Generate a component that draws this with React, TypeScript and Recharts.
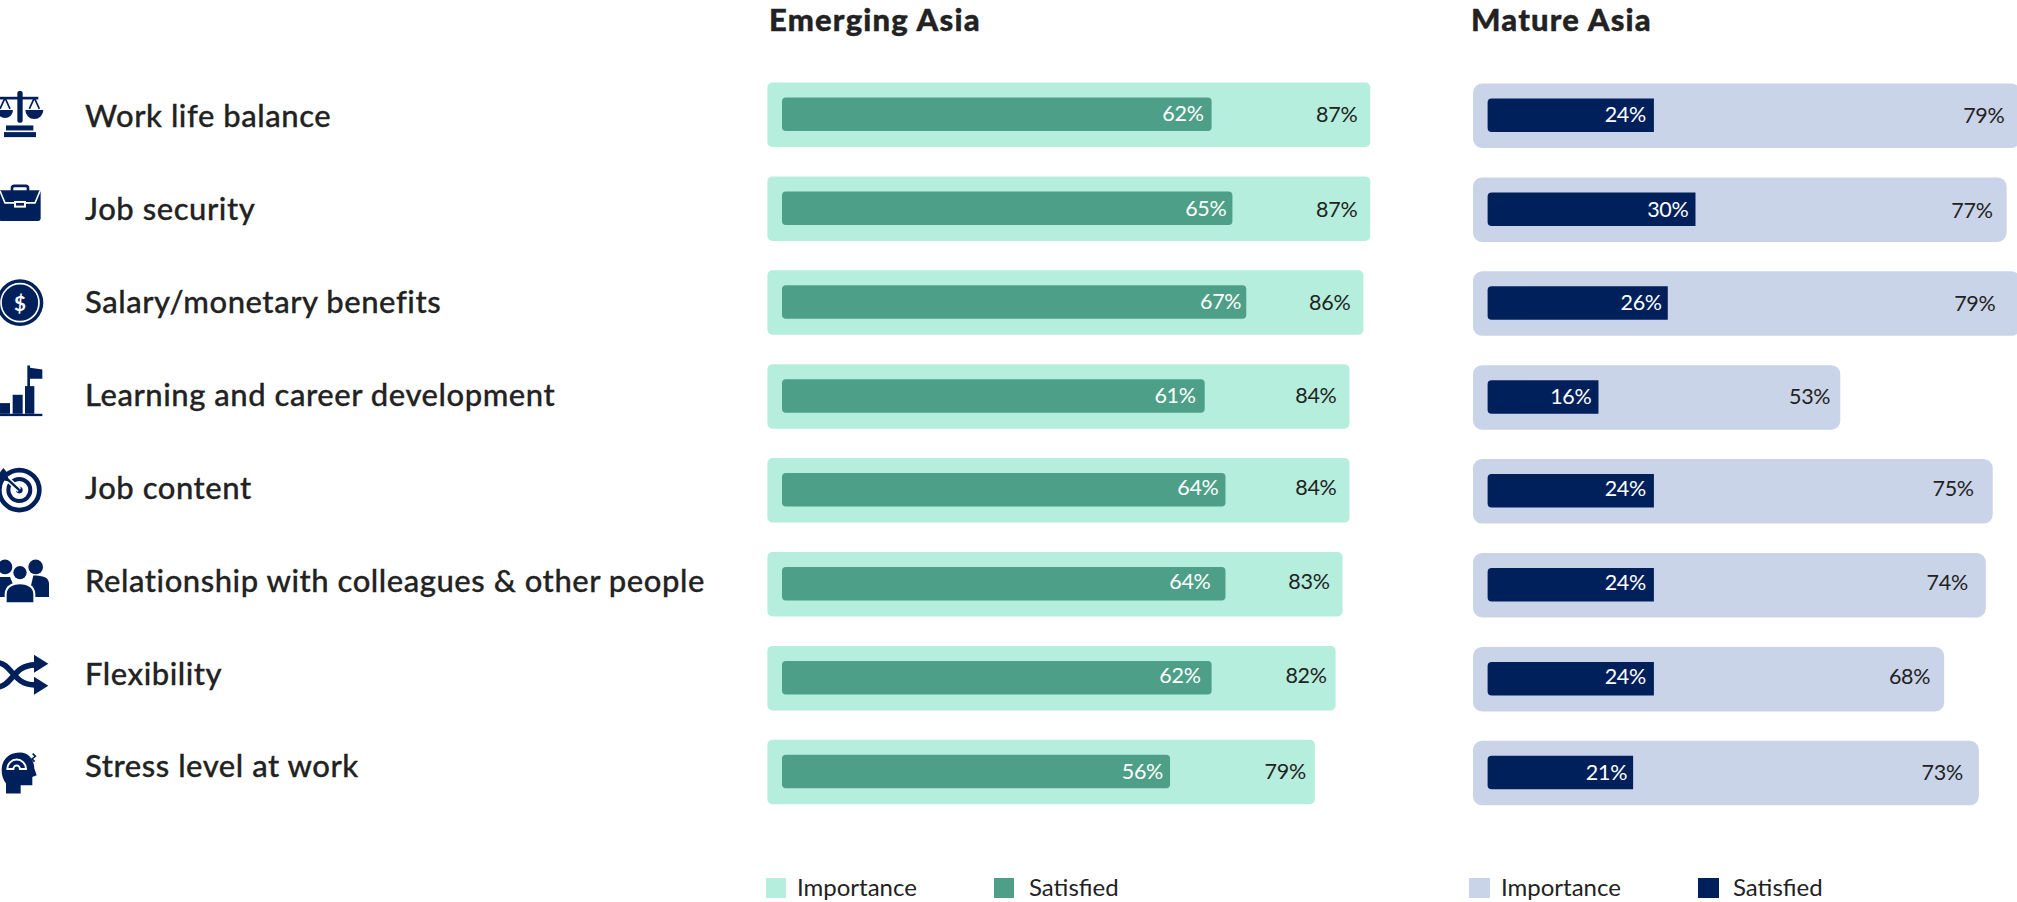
import React from "react"
import { BarChart, Bar, XAxis, YAxis, LabelList } from "recharts"

const categories = [
  "Work life balance",
  "Job security",
  "Salary/monetary benefits",
  "Learning and career development",
  "Job content",
  "Relationship with colleagues & other people",
  "Flexibility",
  "Stress level at work",
]
const emergingImportance = [87, 87, 86, 84, 84, 83, 82, 79]
const emergingSatisfied = [62, 65, 67, 61, 64, 64, 62, 56]
const matureImportance = [79, 77, 79, 53, 75, 74, 68, 73]
const matureSatisfied = [24, 30, 26, 16, 24, 24, 24, 21]
const legendNames = ["Importance", "Satisfied"]

const NAVY = "#00205c"
const INK = "#222222"
const FONT = "Lato, sans-serif"

// the value labels don't sit at one fixed distance from the bar ends
const emergingImpGaps = [13, 13, 13, 13, 13, 13, 9, 9]
const emergingSatGaps = [8, 6, 5, 9, 7, 15, 11, 7]
const matureImpGaps = [16, 14, 25, 10, 19, 18, 14, 16]
const matureSatGaps = [8, 7, 6, 7, 8, 8, 8, 6]
const labelLift = [1, 0, 1, 1, 3, 3, 3, 1]
const iconShift = [0, -5.4, 0.4, -5.7, 0, -3, -3, 1.2]

const toRows = (importance: number[], satisfied: number[]) =>
  categories.map((name, i) => ({ name, importance: importance[i], satisfied: satisfied[i] }))

const emergingRows = toRows(emergingImportance, emergingSatisfied)
const matureRows = toRows(matureImportance, matureSatisfied)

// Icons are sketched at 3x, origin on the left page edge and the row's centre line
function Icon({ index }: { index: number }) {
  switch (index) {
    case 0:
      return (
        <g>
          <rect x={52} y={-70} width={16} height={95} rx={6} />
          <rect x={0} y={-53} width={115} height={8} />
          <path d="M-9,-13 A24,24 0 0 0 39,-13 Z M76,-13 A27,27 0 0 0 130,-13 Z" />
          <path d="M15,-50 L0,-17 M15,-50 L30,-17 M103,-50 L88,-17 M103,-50 L118,-17" fill="none" stroke={NAVY} strokeWidth={5} />
          <rect x={18} y={33} width={82} height={15} />
          <rect x={12} y={53} width={96} height={15} />
        </g>
      )
    case 1:
      return (
        <g>
          <rect x={36} y={-51} width={48} height={22} rx={7} fill="none" stroke={NAVY} strokeWidth={8} />
          <rect x={-4} y={-38} width={126} height={92} rx={7} />
          <path d="M0,-36 L15,0 L105,0 L120,-36" fill="none" stroke="#fff" strokeWidth={5} />
          <rect x={42} y={-6} width={36} height={20} fill="#fff" />
          <rect x={48} y={0} width={24} height={8} />
        </g>
      )
    case 2:
      return (
        <g>
          <circle cx={60} cy={0} r={70} />
          <circle cx={60} cy={0} r={57} fill="none" stroke="#fff" strokeWidth={5} />
          <text x={60} y={2} textAnchor="middle" dominantBaseline="central" fill="#fff" fontFamily={FONT} fontWeight={700} fontSize={62}>
            $
          </text>
        </g>
      )
    case 3:
      return (
        <g>
          <rect x={82} y={-75} width={8} height={70} />
          <path d="M90,-68 L127,-63 L127,-35 L90,-35 Z" />
          <rect x={0} y={38} width={30} height={32} />
          <rect x={38} y={13} width={30} height={57} />
          <rect x={75} y={-13} width={28} height={83} />
          <rect x={-4} y={70} width={131} height={7} />
        </g>
      )
    case 4:
      return (
        <g>
          <circle cx={58} cy={0} r={60} fill="none" stroke={NAVY} strokeWidth={14} />
          <circle cx={58} cy={0} r={33} fill="none" stroke={NAVY} strokeWidth={12} />
          <circle cx={58} cy={0} r={10} />
          <path d="M58,0 L10,-44" stroke="#fff" strokeWidth={16} />
          <path d="M58,0 L10,-44" stroke={NAVY} strokeWidth={7} />
          <path d="M-4,-48 L10,-66 L22,-52 L26,-26 L0,-32 Z" />
        </g>
      )
    case 5:
      return (
        <g>
          <circle cx={15} cy={-42} r={22} />
          <circle cx={107} cy={-42} r={22} />
          <path d="M-10,48 L-10,-12 L30,-12 L55,48 Z M147,48 L147,8 C147,-10 130,-16 100,-16 L85,48 Z" />
          <circle cx={60} cy={-25} r={26} fill="#fff" />
          <circle cx={60} cy={-25} r={20} />
          <path d="M14,68 L14,40 C14,12 40,4 60,4 C80,4 106,12 106,40 L106,68 Z" fill="#fff" />
          <path d="M20,64 L20,40 C20,18 42,10 60,10 C78,10 100,18 100,40 L100,64 Z" />
        </g>
      )
    case 6:
      return (
        <g>
          <path d="M-8,-36 C35,-36 40,32 105,30" fill="none" stroke={NAVY} strokeWidth={17} />
          <path d="M-8,36 C35,36 40,-30 105,-30" fill="none" stroke={NAVY} strokeWidth={17} />
          <path d="M102,-60 L145,-33 L102,-6 Z M102,6 L145,33 L102,60 Z" />
        </g>
      )
    default:
      return (
        <g>
          <path d="M5,-8 C5,-43 30,-61 60,-61 C90,-61 103,-33 103,-13 L110,7 L97,12 L97,37 L62,37 L62,62 L18,62 L18,32 C10,22 5,7 5,-8 Z" />
          <path d="M22,-12 A28,28 0 0 1 78,-12 L60,-12 A10,10 0 0 0 40,-12 Z" fill="none" stroke="#fff" strokeWidth={6} />
          <path d="M98,-58 L106,-50 L96,-42 L104,-34" fill="none" stroke={NAVY} strokeWidth={5} />
        </g>
      )
  }
}

function CategoryTick({ y, payload, index }: any) {
  return (
    <g>
      <g transform={`translate(0, ${y + iconShift[index]}) scale(0.3333)`} fill={NAVY}>
        <Icon index={index} />
      </g>
      <text
        x={85}
        y={y + 0.7 - index}
        dominantBaseline="central"
        fill={INK}
        fontFamily={FONT}
        fontWeight={500}
        fontSize={31}
        letterSpacing={0.55}
        stroke={INK}
        strokeWidth={0.3}
      >
        {payload.value}
      </text>
    </g>
  )
}

function ValueLabel({ viewBox, value, index, gaps, fill }: any) {
  const { x, y, width, height } = viewBox
  return (
    <text
      x={x + width - gaps[index]}
      y={y + height / 2 - labelLift[index]}
      textAnchor="end"
      dominantBaseline="central"
      fill={fill}
      fontFamily={FONT}
      fontSize={21.5}
      letterSpacing={-0.3}
    >
      {value}%
    </text>
  )
}

function PanelBars({ importanceFill, satisfiedFill, impGaps, satGaps, impRadius, satRadius }: any) {
  return [
    <XAxis key="xi" xAxisId="imp" type="number" domain={[0, 100]} hide />,
    <XAxis key="xs" xAxisId="sat" type="number" domain={[0, 97.9]} padding={{ left: 14.6 }} hide />,
    <YAxis key="ys" yAxisId="sat" type="category" dataKey="name" hide />,
    <Bar
      key="bi"
      dataKey="importance"
      xAxisId="imp"
      yAxisId="imp"
      barSize={64.5}
      fill={importanceFill}
      radius={impRadius}
      isAnimationActive={false}
    >
      <LabelList dataKey="importance" content={(p: any) => <ValueLabel {...p} gaps={impGaps} fill={INK} />} />
    </Bar>,
    <Bar
      key="bs"
      dataKey="satisfied"
      xAxisId="sat"
      yAxisId="sat"
      barSize={33.5}
      fill={satisfiedFill}
      radius={satRadius}
      isAnimationActive={false}
    >
      <LabelList dataKey="satisfied" content={(p: any) => <ValueLabel {...p} gaps={satGaps} fill="#fff" />} />
    </Bar>,
  ]
}

function PanelTitle({ left, children }: any) {
  return (
    <div
      style={{
        position: "absolute",
        left,
        top: 1,
        fontFamily: FONT,
        fontWeight: 900,
        fontSize: 31,
        lineHeight: "36px",
        letterSpacing: 1.2,
        WebkitTextStroke: "0.4px #222222",
        color: INK,
      }}
    >
      {children}
    </div>
  )
}

function Key({ left, width, textLeft, fill, name }: any) {
  return (
    <>
      <div style={{ position: "absolute", left, top: 878, width, height: 20, background: fill }} />
      <div
        style={{
          position: "absolute",
          left: textLeft,
          top: 873,
          fontFamily: FONT,
          fontSize: 24,
          lineHeight: "28px",
          color: INK,
        }}
      >
        {name}
      </div>
    </>
  )
}

export default function App() {
  return (
    <div style={{ position: "relative", width: 2017, height: 902, overflow: "hidden", background: "#fff" }}>
      <style>{"body { margin: 0; }"}</style>
      <PanelTitle left={769}>Emerging Asia</PanelTitle>
      <PanelTitle left={1471}>Mature Asia</PanelTitle>

      <div style={{ position: "absolute", left: 0, top: 0 }}>
        <BarChart
          width={1460.4}
          height={902}
          data={emergingRows}
          layout="vertical"
          margin={{ top: 67.5, right: 0, bottom: 83.3, left: 0 }}
        >
          <YAxis
            yAxisId="imp"
            type="category"
            dataKey="name"
            width={767.4}
            axisLine={false}
            tickLine={false}
            interval={0}
            tick={(p: any) => <CategoryTick {...p} />}
          />
          {PanelBars({
            importanceFill: "#b5eedc",
            satisfiedFill: "#4da087",
            impGaps: emergingImpGaps,
            satGaps: emergingSatGaps,
            impRadius: 5,
            satRadius: 4,
          })}
        </BarChart>
      </div>

      <div style={{ position: "absolute", left: 1473, top: 0 }}>
        <BarChart
          width={693}
          height={902}
          data={matureRows}
          layout="vertical"
          margin={{ top: 68.5, right: 0, bottom: 82.3, left: 0 }}
        >
          <YAxis yAxisId="imp" type="category" dataKey="name" hide />
          {PanelBars({
            importanceFill: "#cad4e8",
            satisfiedFill: NAVY,
            impGaps: matureImpGaps,
            satGaps: matureSatGaps,
            impRadius: 9,
            satRadius: [4, 0, 0, 4],
          })}
        </BarChart>
      </div>

      <Key left={766} width={20} textLeft={797} fill="#b5eedc" name={legendNames[0]} />
      <Key left={994} width={20} textLeft={1029} fill="#4da087" name={legendNames[1]} />
      <Key left={1469} width={21} textLeft={1501} fill="#cad4e8" name={legendNames[0]} />
      <Key left={1698} width={21} textLeft={1733} fill={NAVY} name={legendNames[1]} />
    </div>
  )
}
